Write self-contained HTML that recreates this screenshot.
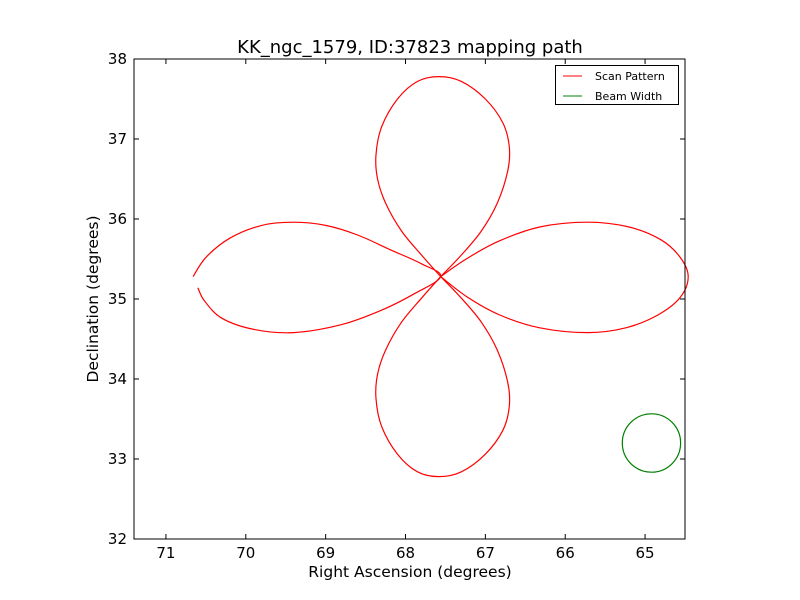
<!DOCTYPE html>
<html><head><meta charset="utf-8"><style>
body{margin:0;background:#fff;}
svg{display:block;font-family:"DejaVu Sans","Liberation Sans",sans-serif;}
</style></head><body>
<svg id="chart" width="800" height="600">
<rect x="0" y="0" width="800" height="600" fill="#fff"/>
<text x="410" y="53" font-size="18" text-anchor="middle">KK_ngc_1579, ID:37823 mapping path</text>
<g id="plot"></g>
<rect x="134" y="59" width="551" height="480" fill="none" stroke="#000" stroke-width="1"/>
<text x="410" y="577" font-size="15.5" text-anchor="middle">Right Ascension (degrees)</text>
<text transform="translate(98,299) rotate(-90)" font-size="15.5" text-anchor="middle">Declination (degrees)</text>
<g>
<rect x="555.5" y="65.5" width="123" height="39" fill="#fff" stroke="#000"/>
<line x1="563" y1="76" x2="582" y2="76" stroke="#f00"/>
<text x="595" y="80" font-size="11">Scan Pattern</text>
<line x1="563" y1="96" x2="582" y2="96" stroke="#008000"/>
<text x="595" y="100" font-size="11">Beam Width</text>
</g>
</svg>
<script>
const xTicks=[71,70,69,68,67,66,65];
const yTicks=[32,33,34,35,36,37,38];
const leftRA=[70.66,70.5,70.2,69.8,69.4,69.0,68.6,68.2,67.8,67.56,67.9,68.3,68.8,69.4,69.9,70.3,70.52,70.6];
const leftDec=[35.28,35.52,35.76,35.92,35.96,35.92,35.8,35.62,35.44,35.28,35.06,34.86,34.68,34.58,34.62,34.76,34.98,35.14];
const rightRA=[67.56,67.24,66.84,66.32,65.72,65.2,64.8,64.56,64.46,64.56,64.84,65.24,65.72,66.32,66.82,67.22,67.56];
const rightDec=[35.28,35.5,35.72,35.9,35.96,35.9,35.74,35.52,35.28,35.02,34.8,34.64,34.58,34.64,34.8,35.02,35.28];
const topRA=[67.56,67.8,68.05,68.25,68.35,68.37,68.3,68.1,67.85,67.58,67.3,67.0,66.78,66.7,66.72,66.85,67.05,67.3,67.56];
const topDec=[35.28,35.55,35.85,36.2,36.5,36.8,37.15,37.5,37.72,37.78,37.72,37.5,37.2,36.9,36.6,36.2,35.85,35.55,35.28];
const botRA=[67.56,67.8,68.05,68.25,68.35,68.37,68.3,68.1,67.85,67.58,67.3,67.0,66.78,66.7,66.72,66.85,67.05,67.3,67.56];
const botDec=[35.28,35.01,34.71,34.36,34.06,33.76,33.41,33.06,32.84,32.78,32.84,33.06,33.36,33.66,33.96,34.36,34.71,35.01,35.28];
const beamRA=[64.92];const beamDec=[33.2];const beamRadius=[0.365];
const X0=134,X1=685,Y0=539,Y1=59,RAmax=71.4,RAmin=64.5,DECmin=32,DECmax=38;
const sx=v=>X0+(RAmax-v)/(RAmax-RAmin)*(X1-X0);
const sy=v=>Y0-(v-DECmin)/(DECmax-DECmin)*(Y0-Y1);
const NS='http://www.w3.org/2000/svg';
const svg=document.getElementById('chart');const plot=document.getElementById('plot');
function mk(t,a,p){const e=document.createElementNS(NS,t);for(const k in a)e.setAttribute(k,a[k]);(p||svg).appendChild(e);return e;}
function smooth(xs,ys){const p=xs.map((x,i)=>[sx(x),sy(ys[i])]);let d='M'+p[0][0]+','+p[0][1];
for(let i=0;i<p.length-1;i++){const a=p[Math.max(0,i-1)],b=p[i],c=p[i+1],e=p[Math.min(p.length-1,i+2)];
d+=' C'+(b[0]+(c[0]-a[0])/6)+','+(b[1]+(c[1]-a[1])/6)+' '+(c[0]-(e[0]-b[0])/6)+','+(c[1]-(e[1]-b[1])/6)+' '+c[0]+','+c[1];}return d;}
[[leftRA,leftDec,'scan-lobe-left'],[rightRA,rightDec,'scan-lobe-right'],[topRA,topDec,'scan-lobe-top'],[botRA,botDec,'scan-lobe-bottom']].forEach(l=>{
const e=mk('path',{d:smooth(l[0],l[1]),fill:'none',stroke:'#f00','stroke-width':1.2},plot);

});
beamRA.forEach((r,i)=>{const rr=beamRadius[i]*(X1-X0)/(RAmax-RAmin);
const c=mk('ellipse',{cx:sx(r),cy:sy(beamDec[i]),rx:rr,ry:beamRadius[i]*(Y0-Y1)/(DECmax-DECmin),fill:'none',stroke:'#008000','stroke-width':1.2},plot);

});
xTicks.forEach(t=>{const x=sx(t);
mk('line',{x1:x,y1:Y0,x2:x,y2:Y0-5,stroke:'#000'});mk('line',{x1:x,y1:Y1,x2:x,y2:Y1+5,stroke:'#000'});
const tx=mk('text',{x:x,y:Y0+19,'font-size':15,'text-anchor':'middle'});tx.textContent=t;

});
yTicks.forEach(t=>{const y=sy(t);
mk('line',{x1:X0,y1:y,x2:X0+5,y2:y,stroke:'#000'});mk('line',{x1:X1,y1:y,x2:X1-5,y2:y,stroke:'#000'});
const ty=mk('text',{x:X0-7,y:y+5,'font-size':15,'text-anchor':'end'});ty.textContent=t;

});
</script>
</body></html>
